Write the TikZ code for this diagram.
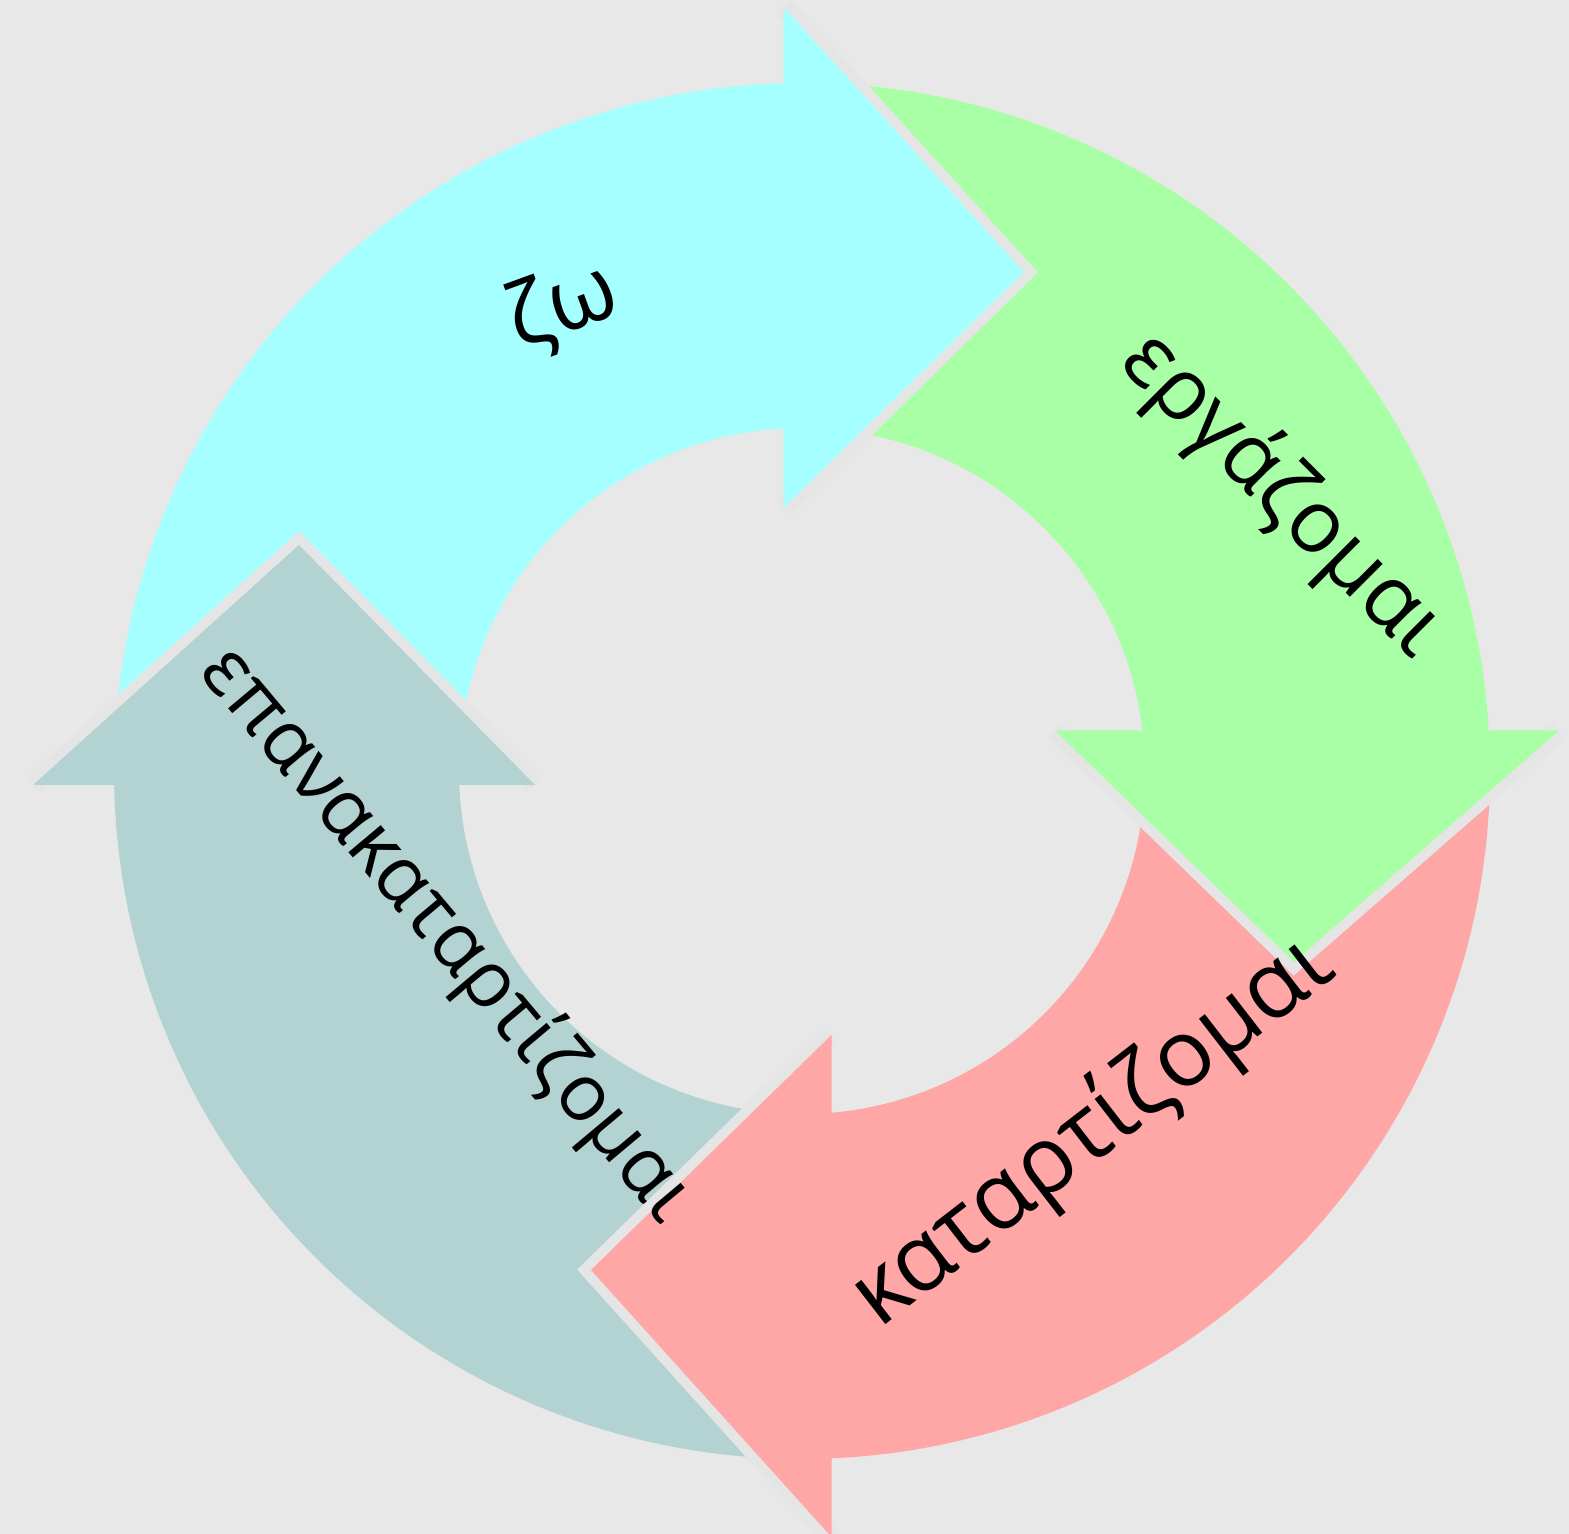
\documentclass[tikz,border=0pt]{standalone}
\usepackage{fontspec}
\setmainfont{Open Sans}
\definecolor{bgc}{HTML}{E8E8E8}
\definecolor{gapc}{HTML}{E5E5E5}
\definecolor{cyanA}{HTML}{A6FFFF}
\definecolor{greenA}{HTML}{A9FFA5}
\definecolor{redA}{HTML}{FFA6A6}
\definecolor{tealA}{HTML}{B3D3D3}
\begin{document}
\begin{tikzpicture}[x=1pt,y=1pt,
  gapline/.style={draw=gapc, line width=20pt, line join=miter, line cap=butt},
  lbl/.style={text=black, inner sep=0pt, anchor=center}]
\fill[bgc] (0,0) rectangle (1569,1534);
\useasboundingbox (0,0) rectangle (1569,1534);
\coordinate (C) at (802,763);
% bodies
\fill[cyanA] ([shift={(C)}]180.57:688) arc[start angle=180.57, end angle=90.54, radius=688]
  -- ([shift={(C)}]92.09:343) arc[start angle=92.09, end angle=181.74, radius=343] -- cycle;
\fill[greenA] ([shift={(C)}]90.94:688) arc[start angle=90.94, end angle=2.37, radius=688]
  -- ([shift={(C)}]5.78:343) arc[start angle=5.78, end angle=92.49, radius=343] -- cycle;
\fill[redA] ([shift={(C)}]2.77:688) arc[start angle=2.77, end angle=-88.54, radius=688]
  -- ([shift={(C)}]-86.07:343) arc[start angle=-86.07, end angle=6.18, radius=343] -- cycle;
\fill[tealA] ([shift={(C)}]-88.14:688) arc[start angle=-88.14, end angle=-179.83, radius=688]
  -- ([shift={(C)}]-178.66:343) arc[start angle=-178.66, end angle=-85.67, radius=343] -- cycle;
% heads
\coordinate (cyo) at (783.5,1527); \coordinate (cyt) at (1024,1262); \coordinate (cyi) at (783.5,1026);
\coordinate (gro) at (1559,803.5); \coordinate (grt) at (1294,572); \coordinate (gri) at (1055,803.5);
\coordinate (rdo) at (831.5,-3); \coordinate (rdt) at (591,264); \coordinate (rdi) at (831.5,499);
\coordinate (tlo) at (33,749); \coordinate (tlt) at (299,989); \coordinate (tli) at (535,749);
\foreach \o/\t/\i/\c in {cyo/cyt/cyi/cyanA, gro/grt/gri/greenA, rdo/rdt/rdi/redA, tlo/tlt/tli/tealA}{
  \draw[gapline] (\o) -- (\t) -- (\i);
  \fill[\c] (\o) -- (\t) -- (\i) -- cycle;
}
% labels
\node[lbl, rotate=20, font=\fontsize{88}{88}\selectfont] (t1) at (563,1226) {ζω};
\node[lbl, rotate=-45, font=\fontsize{87}{87}\selectfont] (t2) at (1283,1039) {εργάζομαι};
\node[lbl, rotate=37.7, font=\fontsize{93}{93}\selectfont] (t3) at (1093,403) {καταρτίζομαι};
\node[lbl, rotate=-50, font=\fontsize{79}{79}\selectfont] (t4) at (447,599) {επανακαταρτίζομαι};
\end{tikzpicture}
\end{document}
